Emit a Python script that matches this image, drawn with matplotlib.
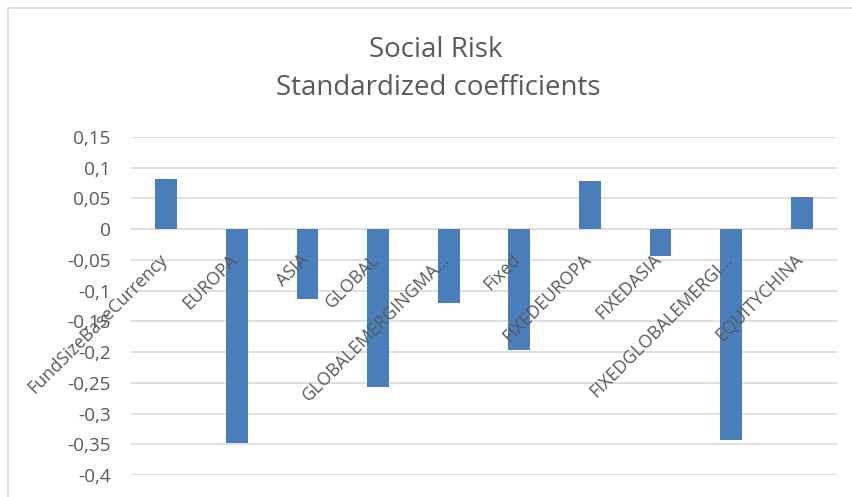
"""
Social risk: standardized coefficients, Excel-style bar chart.
"""

import matplotlib
matplotlib.use("Agg")
import matplotlib.pyplot as plt
from matplotlib.lines import Line2D

# Data
categories = ["FundSizeBaseCurrency", "EUROPA", "ASIA", "GLOBAL",
              "GLOBALEMERGINGMA\u2026", "Fixed", "FIXEDEUROPA", "FIXEDASIA",
              "FIXEDGLOBALEMERGI\u2026", "EQUITYCHINA"]
coefficients = [0.081, -0.348, -0.113, -0.256, -0.120,
                -0.196, 0.078, -0.044, -0.343, 0.053]
yticks = [0.15, 0.1, 0.05, 0, -0.05, -0.1, -0.15, -0.2, -0.25, -0.3, -0.35, -0.4]

TEXT_COLOR = "#595959"
BAR_COLOR = "#4A7EBB"
GRID_COLOR = "#D9D9D9"
W, H = 852, 497

plt.rcParams["font.family"] = ["Open Sans", "DejaVu Sans"]

fig = plt.figure(figsize=(W / 100, H / 100), dpi=100)
ax = fig.add_axes([131 / W, 1 - 475 / H, (837 - 131) / W, (475 - 137) / H])

x = list(range(len(categories)))
ax.bar(x, coefficients, width=0.31, color=BAR_COLOR, zorder=3)

ax.set_xlim(-0.5, len(categories) - 0.5)
ax.set_ylim(-0.4, 0.15)
ax.set_yticks(yticks)
ax.set_yticklabels([f"{v:g}".replace(".", ",") for v in yticks])
ax.yaxis.grid(True, color=GRID_COLOR, linewidth=1.2, zorder=0)
ax.tick_params(axis="y", length=0, pad=14.4, labelsize=13.7, labelcolor=TEXT_COLOR)
ax.set_xticks([])
for side in ["top", "right", "bottom", "left"]:
    ax.spines[side].set_visible(False)

# Category labels sit just under the zero line, rotated like Excel does
for xi, label in zip(x, categories):
    ax.annotate(label, xy=(xi, 0), xytext=(-1.2, -20), textcoords="offset points",
                rotation=45, rotation_mode="anchor", ha="right", va="center",
                fontsize=12.8, color=TEXT_COLOR, zorder=4)

fig.text(436 / W, 1 - 57 / H, "Social Risk", ha="center", va="baseline",
         fontsize=20, color=TEXT_COLOR)
fig.text(438 / W, 1 - 95 / H, "Standardized coefficients", ha="center", va="baseline",
         fontsize=20, color=TEXT_COLOR)

# Chart area border (only top and left edges are in view)
fig.lines.append(Line2D([8 / W, 8 / W, 1], [0, 1 - 8 / H, 1 - 8 / H],
                        transform=fig.transFigure, color=GRID_COLOR, linewidth=1.2))

fig.savefig("out.png", dpi=100, facecolor="white")
